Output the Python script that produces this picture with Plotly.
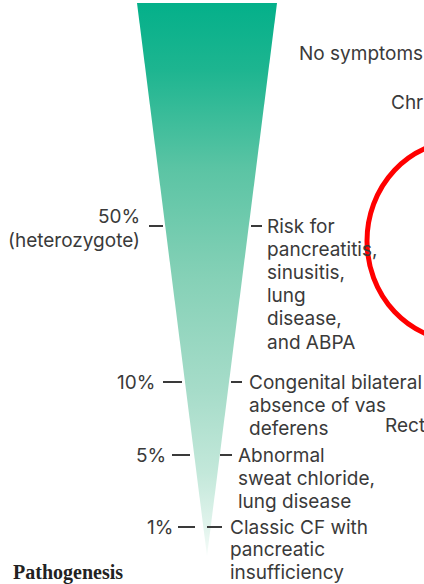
import plotly.graph_objects as go

# ---- data (text content) ----
levels = ["50%", "10%", "5%", "1%"]
level_notes = ["(heterozygote)", "", "", ""]
outcomes = [
    ["Risk for", "pancreatitis,", "sinusitis,", "lung", "disease,", "and ABPA"],
    ["Congenital bilateral", "absence of vas", "deferens"],
    ["Abnormal", "sweat chloride,", "lung disease"],
    ["Classic CF with", "pancreatic", "insufficiency"],
]
side_notes = ["No symptoms", "Chr", "Rect"]
panel_title = "Pathogenesis"

# ---- layout (pixel-like coordinates on a 424x584 canvas) ----
W, H = 424, 584
tri_x = [137, 277, 207, 137]
tri_y = [3, 3, 556, 3]
level_y = [226, 382, 455, 527]
left_tick = [(149, 163), (163, 182), (172, 190), (178, 195)]
right_tick = [(251, 262), (231, 242), (220, 232), (207, 222)]
pct_right = [142, 157, 168, 175]
pct_y = [216, 382, 455, 527]
note_y = [240, None, None, None]
text_left = [265, 247, 236, 228]
line_gap = [23.2, 23.2, 23.2, 22.6]
side_pos = [(297, 53), (389, 102), (383, 425)]
ellipse = dict(x0=367, x1=555, y0=141, y1=341)

TXT = "#3a3a3a"
FONT = "Inter"
FS = 19

fig = go.Figure()

fig.add_trace(go.Scatter(
    x=tri_x, y=tri_y, mode="lines", fill="toself",
    line=dict(width=0, color="rgba(0,0,0,0)"),
    fillgradient=dict(
        type="vertical", start=3, stop=556,
        colorscale=[
            [0.0, "#04b08a"],
            [0.12, "#1db590"],
            [0.3, "#5bc4a4"],
            [0.5, "#86d1b7"],
            [0.7, "#a6dcc9"],
            [0.85, "#c3e8da"],
            [0.95, "#e2f4ed"],
            [1.0, "#f6fcf9"],
        ],
    ),
    hoverinfo="skip", showlegend=False,
))

tx, ty = [], []
for (a, b), y in zip(left_tick, level_y):
    tx += [a, b, None]; ty += [y, y, None]
for (a, b), y in zip(right_tick, level_y):
    tx += [a, b, None]; ty += [y, y, None]
fig.add_trace(go.Scatter(x=tx, y=ty, mode="lines",
                         line=dict(color=TXT, width=2),
                         hoverinfo="skip", showlegend=False))

ann = []
for i, lab in enumerate(levels):
    ann.append(dict(x=pct_right[i], y=pct_y[i], text=lab, xanchor="right",
                    yanchor="middle", showarrow=False))
    if level_notes[i]:
        ann.append(dict(x=pct_right[i], y=note_y[i], text=level_notes[i],
                        xanchor="right", yanchor="middle", showarrow=False))
    for j, line in enumerate(outcomes[i]):
        ann.append(dict(x=text_left[i], y=level_y[i] + j * line_gap[i], text=line,
                        xanchor="left", yanchor="middle", showarrow=False))
for t, (x, y) in zip(side_notes, side_pos):
    ann.append(dict(x=x, y=y, text=t, xanchor="left", yanchor="middle",
                    showarrow=False))
ann.append(dict(x=11, y=572, text=f"<b>{panel_title}</b>", xanchor="left",
                yanchor="middle", showarrow=False,
                font=dict(family="Liberation Serif", size=20, color="#222")))

for a in ann:
    a.setdefault("font", dict(family=FONT, size=FS, color=TXT))
    a["xref"] = "x"; a["yref"] = "y"

fig.update_layout(
    width=W, height=H,
    margin=dict(l=0, r=0, t=0, b=0),
    paper_bgcolor="white", plot_bgcolor="white",
    xaxis=dict(range=[0, W], visible=False, fixedrange=True),
    yaxis=dict(range=[H, 0], visible=False, fixedrange=True),
    annotations=ann,
    shapes=[dict(type="circle", xref="x", yref="y", **ellipse,
                 line=dict(color="#ff0000", width=5))],
    showlegend=False,
)

fig.write_html(
    "out.html",
    config=dict(displayModeBar=False),
    post_script="document.body.style.margin='0';document.body.style.overflow='hidden';",
)
